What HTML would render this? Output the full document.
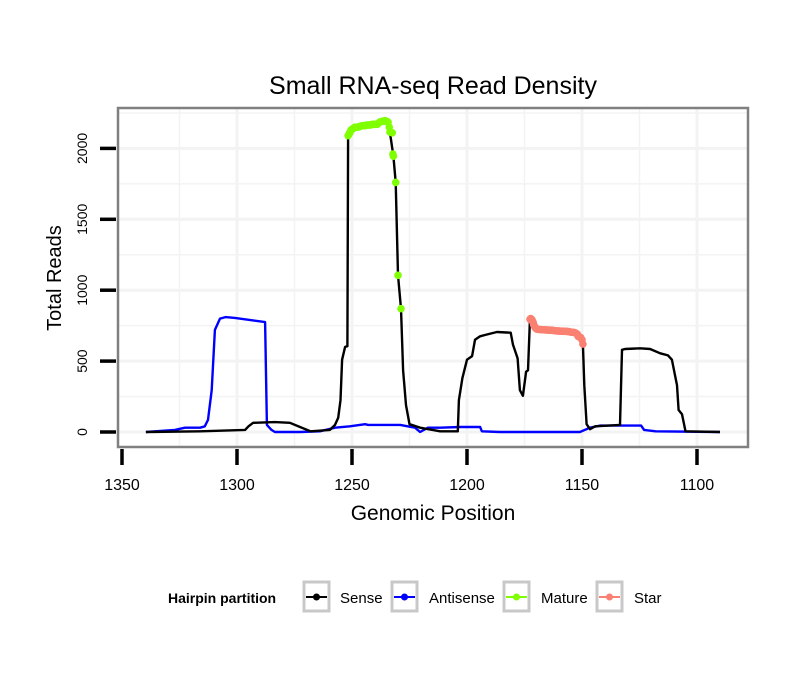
<!DOCTYPE html>
<html><head><meta charset="utf-8"><style>
body{margin:0;background:#fff;}
svg text{font-family:"Liberation Sans",sans-serif;}
</style></head><body>
<svg id="chart" width="810" height="690" xmlns="http://www.w3.org/2000/svg">
<rect width="810" height="690" fill="#fff"/>
<g id="grid"></g>
<g id="marks"></g>
<rect x="118" y="108" width="630" height="339" fill="none" stroke="#808080" stroke-width="2.5"/>
<g id="axes"></g>
<text x="433" y="94" font-size="25" text-anchor="middle">Small RNA-seq Read Density</text>
<text x="433" y="520" font-size="21" text-anchor="middle">Genomic Position</text>
<text transform="translate(61,278) rotate(-90)" font-size="20" text-anchor="middle">Total Reads</text>
<g>
<text x="168" y="603" font-size="14" font-weight="bold">Hairpin partition</text>
<g><rect x="304" y="582" width="25" height="29" fill="#fff" stroke="#c8c8c8" stroke-width="3"/><line x1="306" y1="597" x2="327" y2="597" stroke="#000" stroke-width="2"/><circle cx="316.5" cy="597" r="3.5" fill="#000"/><text x="340" y="603" font-size="15">Sense</text></g>
<g><rect x="392" y="582" width="25" height="29" fill="#fff" stroke="#c8c8c8" stroke-width="3"/><line x1="394" y1="597" x2="415" y2="597" stroke="#0000ff" stroke-width="2"/><circle cx="404.5" cy="597" r="3.5" fill="#0000ff"/><text x="429" y="603" font-size="15">Antisense</text></g>
<g><rect x="504" y="582" width="25" height="29" fill="#fff" stroke="#c8c8c8" stroke-width="3"/><line x1="506" y1="597" x2="527" y2="597" stroke="#7fff00" stroke-width="2"/><circle cx="516.5" cy="597" r="3.5" fill="#7fff00"/><text x="541" y="603" font-size="15">Mature</text></g>
<g><rect x="597" y="582" width="25" height="29" fill="#fff" stroke="#c8c8c8" stroke-width="3"/><line x1="599" y1="597" x2="620" y2="597" stroke="#fa8072" stroke-width="2"/><circle cx="609.5" cy="597" r="3.5" fill="#fa8072"/><text x="634" y="603" font-size="15">Star</text></g>
</g>
</svg>
<script>
const xTicks=[1350,1300,1250,1200,1150,1100];
const yTicks=[0,500,1000,1500,2000];
const sensePos=[1339.6,1316,1296.5,1295,1293,1283.5,1277,1272.6,1268,1259.6,1257.4,1256,1255,1254.3,1253,1252,1251.7,1250.9,1248.7,1245.6,1242,1239,1238,1235.6,1234.3,1233.5,1232,1231,1230,1228.7,1227.8,1226.5,1225,1220.4,1211.7,1204,1203.5,1202,1200,1197.8,1196.5,1194.3,1192,1187,1181,1180,1178,1177,1175.7,1174.3,1173.5,1172.6,1171,1169.6,1166,1159.6,1155,1151.7,1149.6,1149,1148,1146.5,1144.3,1133.5,1132.6,1131.3,1124.8,1120.4,1116,1112.6,1110.9,1108.7,1108,1106.5,1105,1090];
const senseVal=[0,5,15,40,65,70,65,35,5,15,50,100,225,510,600,605,2090,2130,2150,2160,2165,2170,2185,2195,2185,2115,1945,1760,1105,870,435,190,55,30,5,5,225,380,510,535,650,675,685,705,700,615,520,295,255,425,435,805,755,725,720,712,705,675,620,330,55,20,40,50,580,585,590,585,555,540,510,330,155,125,5,0];
const antiPos=[1339.6,1327,1322.6,1316,1314,1312.6,1311,1309.6,1307.4,1305,1300.9,1287.8,1287,1285,1283.5,1272.6,1264,1257.4,1250.9,1244.3,1243,1229,1222.6,1220.4,1217,1211.7,1203,1194.3,1193.5,1185.7,1150.9,1146.5,1142,1124.3,1123,1118,1090];
const antiVal=[0,15,30,30,40,85,295,720,800,810,805,775,50,15,0,0,5,30,40,55,50,50,30,0,30,30,35,35,5,0,0,30,45,45,15,5,0];
const maturePos=[1251.7,1251.3,1251,1250.7,1250.4,1250,1249.5,1249,1248.7,1248,1247.5,1247,1246.5,1246,1245.6,1245,1244.5,1244,1243.5,1243,1242.5,1242,1241.5,1241,1240.5,1240,1239.5,1239,1238.5,1238,1237.5,1237,1236.5,1236,1235.6,1235.2,1234.8,1234.3,1233.8,1233.5,1232.5,1232.2,1232,1231,1230,1228.7];
const matureVal=[2090,2100,2110,2120,2130,2135,2140,2145,2150,2150,2150,2152,2155,2158,2160,2160,2160,2162,2165,2165,2165,2165,2168,2170,2170,2170,2170,2170,2178,2185,2188,2190,2192,2194,2195,2192,2190,2185,2150,2115,2110,1960,1945,1760,1105,870];
const starPos=[1172.6,1172.3,1172,1171.7,1171.5,1171.2,1171,1170.6,1170.3,1170,1169.6,1169,1168.5,1168,1167.5,1167,1166.5,1166,1165.5,1165,1164.5,1164,1163.5,1163,1162.5,1162,1161.5,1161,1160.5,1160,1159.6,1159,1158.5,1158,1157.5,1157,1156.5,1156,1155.5,1155,1154.5,1154,1153.5,1153,1152.5,1152,1151.7,1151.2,1150.8,1150.5,1150,1149.6];
const starVal=[795,800,795,790,780,770,755,745,735,730,725,724,723,722,722,721,721,720,720,719,719,718,718,717,716,715,714,713,713,712,712,711,711,710,710,710,709,708,707,705,704,703,702,700,695,690,675,670,668,665,650,620];
const NS="http://www.w3.org/2000/svg";
const xs=v=>122+(1350-v)*2.3;
const ys=v=>432-v*0.1418;
function mk(tag,attrs,parent){const e=document.createElementNS(NS,tag);for(const k in attrs)e.setAttribute(k,attrs[k]);parent.appendChild(e);return e;}
const grid=document.getElementById('grid'),marks=document.getElementById('marks'),axes=document.getElementById('axes');
mk('rect',{x:118,y:108,width:630,height:339,fill:'#fff'},grid);
for(let v=1325;v>=1075;v-=25){const x=xs(v);if(x<118||x>748)continue;const l=mk('line',{x1:x,x2:x,y1:108,y2:447,stroke:'#f3f3f3','stroke-width':v%50===0?3:1.5},grid);

}
for(let v=0;v<=2250;v+=250){const y=ys(v);if(y<108)continue;const l=mk('line',{x1:118,x2:748,y1:y,y2:y,stroke:'#f3f3f3','stroke-width':v%500===0?3:1.5},grid);

}
xTicks.forEach(v=>{const x=xs(v);const t=mk('line',{x1:x,x2:x,y1:449,y2:465,stroke:'#000','stroke-width':3.5},axes);


const s=mk('text',{x:x,y:490,'font-size':16,'text-anchor':'middle'},axes);s.textContent=v;

});
yTicks.forEach(v=>{const y=ys(v);const t=mk('line',{x1:100,x2:116,y1:y,y2:y,stroke:'#000','stroke-width':3.5},axes);


const s=mk('text',{transform:`translate(87,${y}) rotate(-90)`,'font-size':14,'text-anchor':'middle'},axes);s.textContent=v;

});
function line(pos,val,color,name){const d=pos.map((p,i)=>(i?'L':'M')+xs(p).toFixed(1)+','+ys(val[i]).toFixed(1)).join('');
const p=mk('path',{d:d,fill:'none',stroke:color,'stroke-width':2.4,'stroke-linejoin':'round'},marks);

}
line(antiPos,antiVal,'#0000ff','antisense-line');
line(sensePos,senseVal,'#000','sense-line');
function dots(pos,val,color,name){pos.forEach((p,i)=>{const c=mk('circle',{cx:xs(p),cy:ys(val[i]),r:3.8,fill:color},marks);

});}
dots(maturePos,matureVal,'#7fff00','mature');
dots(starPos,starVal,'#fa8072','star');
</script>
</body></html>
